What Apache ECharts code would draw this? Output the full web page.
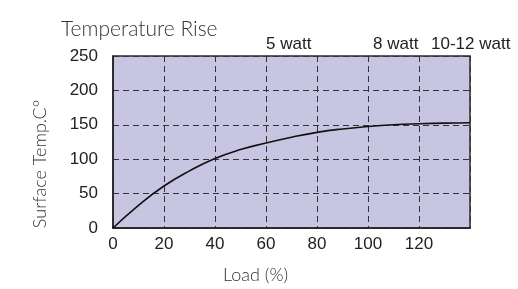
<!DOCTYPE html>
<html><head><meta charset="utf-8">
<script src="https://cdn.jsdelivr.net/npm/echarts@6/dist/echarts.min.js"></script>
<style>html,body{margin:0;padding:0;background:#fff}#c{width:518px;height:289px}</style>
</head><body><div id="c"></div>
<script>
const loadPct = [0,10,20,30,40,50,60,70,80,90,100,110,120,130,140];
const tempRise = [0,33,61,83,101,114,123.5,132,139,144,147.5,150,151.5,152.5,153];
const xTicks = [0,20,40,60,80,100,120];
const yTicks = [0,50,100,150,200,250];
const wattLabels = ['5 watt','8 watt','10-12 watt'];

const tickFont = '"Liberation Sans",sans-serif';
const titleFont = 'Lato';
const chart = echarts.init(document.getElementById('c'));
chart.setOption({
  animation:false,
  title:{text:'Temperature Rise',left:56,top:14,textStyle:{fontFamily:titleFont,fontWeight:300,fontSize:21,color:'#333'}},
  grid:{left:113,right:48,top:56,bottom:56,show:true,backgroundColor:'#c8c5e2',borderColor:'#2a2a2a',borderWidth:1.5},
  graphic:[
    {type:'text',left:266,top:36,style:{text:wattLabels[0],font:'17px '+tickFont,fill:'#222'}},
    {type:'text',left:373,top:36,style:{text:wattLabels[1],font:'17px '+tickFont,fill:'#222'}},
    {type:'text',left:431,top:36,style:{text:wattLabels[2],font:'17px '+tickFont,fill:'#222'}},
    {type:'text',x:40,y:164,rotation:Math.PI/2,
      style:{text:'Surface Temp.C\u00B0',font:'300 18px '+titleFont,fill:'#333',align:'center',verticalAlign:'middle'}}
  ],
  xAxis:{type:'value',min:0,max:140,interval:20,
    name:'Load (%)',nameLocation:'middle',nameGap:38,
    nameTextStyle:{fontFamily:titleFont,fontWeight:300,fontSize:18,color:'#333',padding:[0,72,0,0]},
    axisLine:{lineStyle:{color:'#222',width:1.5}},axisTick:{show:false},
    axisLabel:{margin:8,fontFamily:tickFont,fontSize:17,color:'#222',
      formatter:v=>xTicks.indexOf(v)>=0?String(v):''},
    splitLine:{show:true,lineStyle:{color:'#333',type:[6,4],width:1}}},
  yAxis:{type:'value',min:0,max:250,interval:50,
    axisLine:{show:true,lineStyle:{color:'#222',width:1.5}},axisTick:{show:false},
    axisLabel:{margin:15,fontFamily:tickFont,fontSize:17,color:'#222',
      formatter:v=>yTicks.indexOf(v)>=0?String(v):''},
    splitLine:{show:true,lineStyle:{color:'#333',type:[6,4],width:1}}},
  series:[{type:'line',data:loadPct.map((x,i)=>[x,tempRise[i]]),smooth:true,showSymbol:false,
    lineStyle:{color:'#111',width:1.6}}]
});
</script></body></html>
